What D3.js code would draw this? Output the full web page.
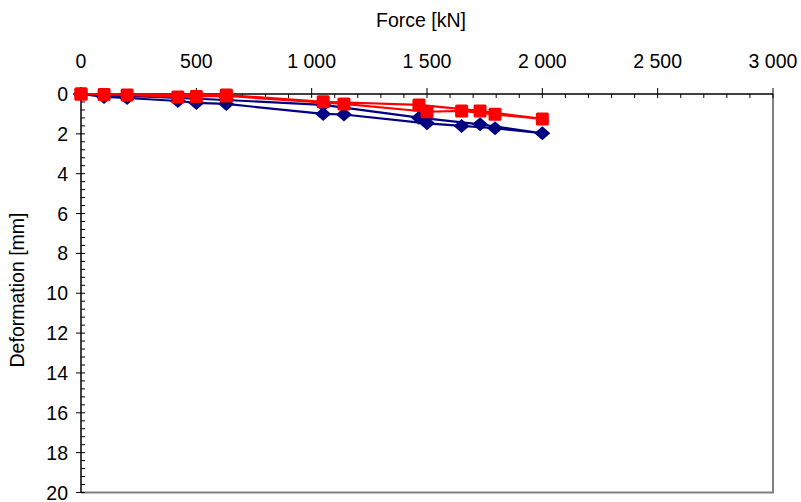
<!DOCTYPE html>
<html>
<head>
<meta charset="utf-8">
<script src="https://cdn.jsdelivr.net/npm/d3@7"></script>
<style>
  html, body { margin: 0; padding: 0; background: #fff; }
  svg { display: block; }
  text { font-family: "Liberation Sans", Arial, sans-serif; fill: #000; }
</style>
</head>
<body>
<svg id="chart" width="801" height="502"></svg>
<script>
// ---- data ----
const xTicks = [0, 500, 1000, 1500, 2000, 2500, 3000];
const xTickLabels = ["0", "500", "1 000", "1 500", "2 000", "2 500", "3 000"];
const yTicks = [0, 2, 4, 6, 8, 10, 12, 14, 16, 18, 20];
const yTickLabels = ["0", "2", "4", "6", "8", "10", "12", "14", "16", "18", "20"];

const blueForce = [0, 100, 200, 420, 500, 630, 1050, 1140, 1500, 1650, 1795, 2000, 1730, 1465, 1050, 630, 0];
const blueDef   = [0, 0.15, 0.2, 0.35, 0.45, 0.5, 1.0, 1.03, 1.47, 1.6, 1.72, 1.97, 1.52, 1.19, 0.55, 0.3, 0];

const redForce = [0, 100, 200, 420, 500, 630, 1140, 1500, 1650, 1795, 2000, 1730, 1465, 1050, 630, 0];
const redDef   = [0, 0.02, 0.05, 0.15, 0.12, 0.1, 0.5, 0.89, 0.85, 1.02, 1.25, 0.85, 0.55, 0.39, 0.05, 0];

// ---- layout ----
const svg = d3.select("#chart");
const L = 81, R = 773, T = 94, B = 492.5;
const x = d3.scaleLinear().domain([0, 3000]).range([L, R]);
const y = d3.scaleLinear().domain([0, 20]).range([T, B]);

// plot border (right & bottom grey)
svg.append("line").attr("x1", R).attr("x2", R).attr("y1", T).attr("y2", B)
  .attr("stroke", "#808080").attr("stroke-width", 2);
svg.append("line").attr("x1", L).attr("x2", R + 1).attr("y1", B).attr("y2", B)
  .attr("stroke", "#808080").attr("stroke-width", 2);

// top axis
const gx = svg.append("g");
gx.append("line").attr("x1", L).attr("x2", R).attr("y1", T).attr("y2", T)
  .attr("stroke", "#000").attr("stroke-width", 1.5);
d3.range(0, 3001, 100).forEach(v => {
  const major = v % 500 === 0;
  gx.append("line").attr("x1", x(v)).attr("x2", x(v))
    .attr("y1", major ? T - 6 : T).attr("y2", T + 4)
    .attr("stroke", "#000").attr("stroke-width", 1);
});
gx.selectAll("text.xt").data(xTicks).join("text").attr("class", "xt")
  .attr("x", d => x(d)).attr("y", 68).attr("text-anchor", "middle")
  .attr("font-size", 19.5).text((d, i) => xTickLabels[i]);

// left axis
const gy = svg.append("g");
gy.append("line").attr("x1", L).attr("x2", L).attr("y1", T).attr("y2", B)
  .attr("stroke", "#000").attr("stroke-width", 1.5);
d3.range(0, 50.5, 1).map(k => k * 0.4).forEach(v => {
  const major = Math.abs(v / 2 - Math.round(v / 2)) < 1e-6;
  gy.append("line").attr("x1", major ? L - 5 : L).attr("x2", L + 4)
    .attr("y1", y(v)).attr("y2", y(v))
    .attr("stroke", "#000").attr("stroke-width", 1);
});
gy.selectAll("text.yt").data(yTicks).join("text").attr("class", "yt")
  .attr("x", 68).attr("y", d => y(d) + 7).attr("text-anchor", "end")
  .attr("font-size", 19.5).text((d, i) => yTickLabels[i]);

// titles
svg.append("text").attr("x", 421).attr("y", 27).attr("text-anchor", "middle")
  .attr("font-size", 19.5).text("Force [kN]");
svg.append("text").attr("transform", "translate(24,290) rotate(-90)")
  .attr("text-anchor", "middle").attr("font-size", 19.5).text("Deformation [mm]");

// series
const line = d3.line().x(d => x(d[0])).y(d => y(d[1]));
function drawSeries(forces, defs, color, shape) {
  const pts = forces.map((f, i) => [f, defs[i]]);
  svg.append("path").datum(pts).attr("d", line)
    .attr("fill", "none").attr("stroke", color).attr("stroke-width", 2.2)
    .attr("stroke-linejoin", "round");
  const g = svg.append("g");
  pts.forEach(p => {
    const cx = x(p[0]), cy = y(p[1]);
    if (shape === "diamond") {
      g.append("path")
        .attr("d", `M${cx},${cy - 7}L${cx + 8},${cy}L${cx},${cy + 7}L${cx - 8},${cy}Z`)
        .attr("fill", color);
    } else {
      g.append("rect").attr("x", cx - 6.5).attr("y", cy - 6.5)
        .attr("width", 13).attr("height", 13).attr("rx", 1.5).attr("fill", color);
    }
  });
}
drawSeries(blueForce, blueDef, "#000080", "diamond");
drawSeries(redForce, redDef, "#FF0000", "square");
</script>
</body>
</html>
